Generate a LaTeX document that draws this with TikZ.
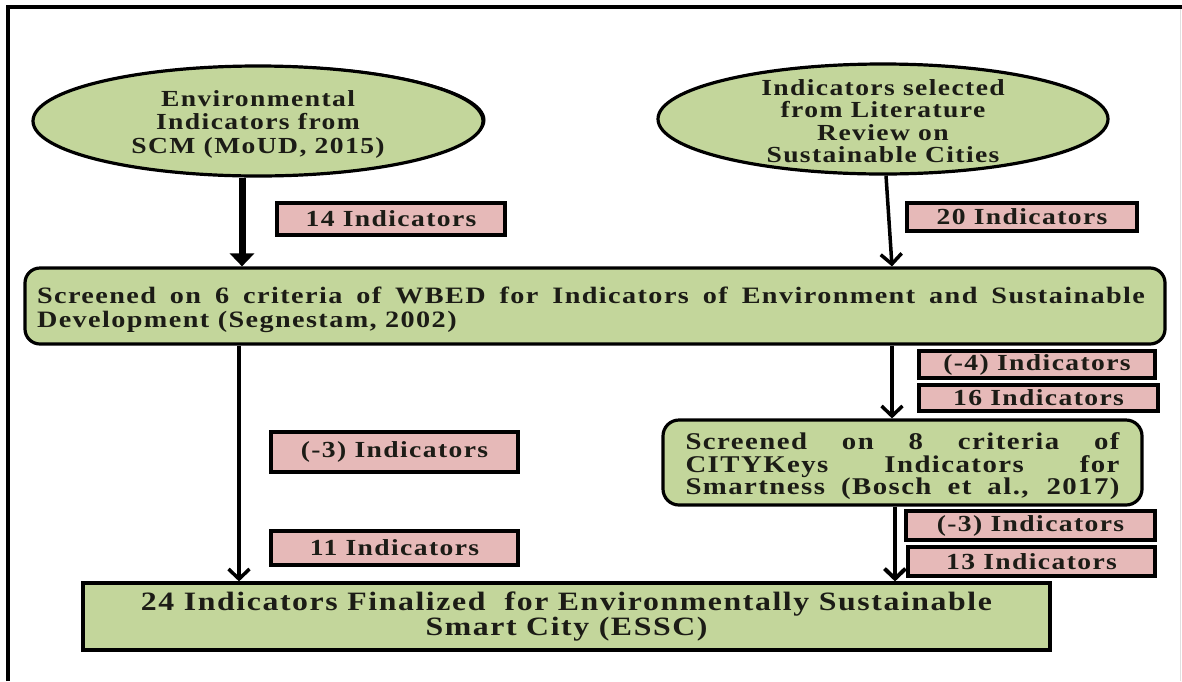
\documentclass[tikz,border=0pt]{standalone}
\usepackage{fontspec}
\setmainfont{Liberation Serif}[FakeStretch=1.2,LetterSpace=6]
\usetikzlibrary{shapes.geometric,arrows.meta,shadows}
\definecolor{boxgreen}{RGB}{195,214,155}
\definecolor{labelpink}{RGB}{230,185,184}
\definecolor{inkdark}{RGB}{28,28,22}

\begin{document}
\begin{tikzpicture}[x=1pt,y=1pt,
  every node/.style={inner sep=0pt, text=inkdark},
  greenball/.style={ellipse, draw=black, line width=3.2pt, fill=boxgreen,
    minimum width=450pt, minimum height=110pt},
  balltext/.style={align=center, font=\bfseries\fontsize{23}{23.5}\selectfont},
  stagebox/.style={rectangle, rounded corners=15pt, draw=black, line width=3.2pt, fill=boxgreen},
  finalbox/.style={rectangle, draw=black, line width=3.2pt, fill=boxgreen,
    align=center, font=\bfseries\fontsize{26.5}{25.5}\selectfont},
  countbox/.style={rectangle, draw=black, line width=3.2pt, fill=labelpink,
    font=\bfseries\fontsize{23}{23}\selectfont},
  flow/.style={line width=3.5pt, -{Straight Barb[length=10pt,width=21pt]}},
  heavyflow/.style={line width=7pt, -{Triangle[length=13pt,width=24pt]}}
]
\useasboundingbox (0,0) rectangle (1182,-681);

% page frame
\draw[line width=3.5pt] (8,-681) -- (8,-7) -- (1182,-7);
\draw[line width=1pt, black!12] (1180,-9) -- (1180,-681);

% sources
\node[greenball, drop shadow={shadow xshift=2.5pt, shadow yshift=1pt, fill=black, opacity=1}] (e1) at (258,-121) {};
\node[balltext] (e1t) at ([yshift=-3pt]e1.center) {Environmental\\Indicators from\\SCM (MoUD, 2015)};
\node[greenball] (e2) at (883,-119) {};
\node[balltext, font=\bfseries\fontsize{23}{22.5}\selectfont] (e2t) at ([yshift=-2pt]e2.center) {Indicators selected\\from Literature\\Review on\\Sustainable Cities};

% screening stages
\node[stagebox, minimum width=1140pt, minimum height=76pt] (main) at (595,-306) {};
\node[align=left, font=\bfseries\fontsize{23.5}{23.5}\selectfont] (maint) at ([xshift=-4pt,yshift=-4pt]main.center)
  {\makebox[1108pt][s]{Screened on 6 criteria of WBED for Indicators of Environment and Sustainable}\\
   Development (Segnestam, 2002)};
\node[stagebox, rounded corners=16pt, minimum width=479pt, minimum height=85pt] (city) at (902.5,-462.5) {};
\node[align=left, font=\bfseries\fontsize{24}{22.5}\selectfont] (cityt) at ([yshift=-4pt]city.center)
  {\makebox[434pt][s]{Screened on 8 criteria of}\\
   \makebox[434pt][s]{CITYKeys Indicators for}\\
   \makebox[434pt][s]{Smartness (Bosch et al., 2017)}};

% result
\node[finalbox, minimum width=967pt, minimum height=67pt] (final) at (566.5,-616.5)
  {24 Indicators Finalized~ for Environmentally Sustainable\\Smart City (ESSC)};

% indicator counts
\node[countbox, minimum width=228pt, minimum height=32pt] (l14) at (391,-219) {14 Indicators};
\node[countbox, minimum width=230pt, minimum height=28pt] (l20) at (1022,-217) {20 Indicators};
\node[countbox, minimum width=236pt, minimum height=27pt] (lm4) at (1037,-364.5) {(-4) Indicators};
\node[countbox, minimum width=239pt, minimum height=26pt] (l16) at (1038.5,-398) {16 Indicators};
\node[countbox, minimum width=247pt, minimum height=40pt] (lm3a) at (394.5,-452) {(-3) Indicators};
\node[countbox, minimum width=247pt, minimum height=34pt] (l11) at (394.5,-548) {11 Indicators};
\node[countbox, minimum width=249pt, minimum height=29pt] (lm3b) at (1030.5,-525.5) {(-3) Indicators};
\node[countbox, minimum width=247pt, minimum height=29pt] (l13) at (1031.5,-561.5) {13 Indicators};

% connector columns
\coordinate (c1) at (242,0);
\coordinate (c2) at (886,0);
\coordinate (c3) at (239,0);
\coordinate (c4) at (892,0);
\coordinate (c5) at (895,0);

\draw[heavyflow] (e1.south -| c1) -- (main.north -| c1);
\draw[flow] (e2.south -| c2) -- (main.north -| c4);
\draw[flow] (main.south -| c3) -- (final.north -| c3);
\draw[flow] (main.south -| c4) -- (city.north -| c4);
\draw[flow, line width=4pt] (city.south -| c5) -- (final.north -| c5);
\end{tikzpicture}
\end{document}
